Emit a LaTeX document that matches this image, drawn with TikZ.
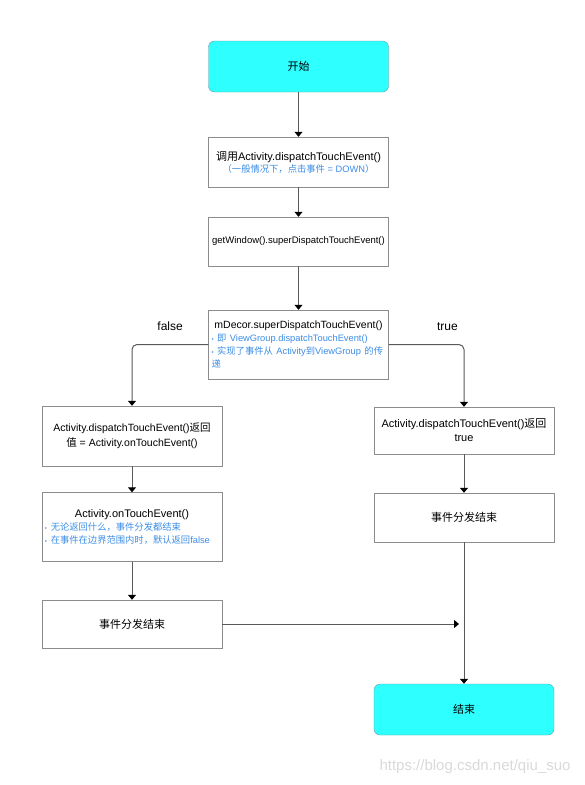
\documentclass[tikz,border=0pt]{standalone}
\usepackage{fontspec}
\setmainfont{Liberation Sans}
\newfontfamily\cjk{Noto Sans CJK SC}
\usetikzlibrary{arrows.meta,positioning}
\definecolor{startcyan}{HTML}{2EFFFF}
\definecolor{cyanline}{HTML}{6A9A9E}
\definecolor{noteblue}{HTML}{3C8DE6}
\newcommand\zh[1]{{\cjk #1}}
\newcommand\note[1]{{\fontsize{9.3}{13}\selectfont\color{noteblue}#1}}
\newcommand\dotmark{{\fontsize{6}{8}\selectfont\textbullet}}
\tikzstyle{every node}=[font=\fontsize{11}{14}\selectfont]
\tikzstyle{term}=[draw=cyanline,fill=startcyan,rounded corners=6pt,minimum width=180pt,minimum height=51pt]
\tikzstyle{proc}=[draw=black!45,fill=white,minimum width=180pt,align=center]
\tikzstyle{flow}=[draw=black!65,line width=1pt,-{Triangle[width=8pt,length=5pt,color=black]}]

\begin{document}
\begin{tikzpicture}[x=1pt,y=-1pt]
  \useasboundingbox (0,0) rectangle (585,785);
  % main column
  \node[term] (start) at (298.5,66.5) {\zh{开始}};
  \node[proc,minimum height=50pt] (call) at (298.5,162)
    {\zh{调用}Activity.dispatchTouchEvent()\\[-2pt] \note{\zh{（一般情况下，点击事件} = DOWN\zh{）}}};
  \node[proc,minimum height=49pt,font=\fontsize{9.5}{12}\selectfont] (win) at (298.5,241.5)
    {getWindow().superDispatchTouchEvent()};
  \node[proc,minimum height=69pt,text width=174pt,align=left,inner sep=2pt,font=\fontsize{10.5}{14}\selectfont] (decor) at (298.5,344.5)
    {\makebox[174pt]{mDecor.superDispatchTouchEvent()}\\[-1pt]
     \note{\dotmark\ \zh{即} ViewGroup.dispatchTouchEvent()}\\[-1pt]
     \note{\dotmark\ \zh{实现了事件从} Activity\zh{到}ViewGroup \zh{的传}}\\[-1pt]
     \note{\zh{递}}};
  % false branch
  \node[proc,minimum height=60pt,font=\fontsize{10.5}{15}\selectfont] (falseret) at (132,436)
    {Activity.dispatchTouchEvent()\zh{返回}\\ \zh{值} = Activity.onTouchEvent()};
  \node[proc,minimum height=69pt,text width=174pt,align=left,inner sep=2pt] (ontouch) at (132,527)
    {\makebox[174pt]{Activity.onTouchEvent()}\\[-1pt]
     \note{\dotmark\ \zh{无论返回什么，事件分发都结束}}\\[-1pt]
     \note{\dotmark\ \zh{在事件在边界范围内时，默认返回}false}};
  \node[proc,minimum height=48pt] (leftend) at (132,624) {\zh{事件分发结束}};
  % true branch
  \node[proc,minimum height=47pt] (trueret) at (464,430.5)
    {Activity.dispatchTouchEvent()\zh{返回}\\ true};
  \node[proc,minimum height=49pt] (rightend) at (464,517.5) {\zh{事件分发结束}};
  \node[term] (stop) at (464,709.5) {\zh{结束}};
  \coordinate (join) at (459,624);

  \path[flow] (start) -- (call);
  \path[flow] (call) -- (win);
  \path[flow] (win) -- (decor);
  \path[flow,rounded corners=5pt] (decor.west) -| node[pos=0.25,above=10pt,font=\fontsize{12}{14}\selectfont] (flab) {false} (falseret.north);
  \path[flow,rounded corners=5pt] (decor.east) -| node[pos=0.39,above=10pt,font=\fontsize{12}{14}\selectfont] (tlab) {true} (trueret.north);
  \path[flow] (falseret) -- (ontouch);
  \path[flow] (ontouch) -- (leftend);
  \path[flow] (trueret) -- (rightend);
  \path[flow] (rightend) -- (stop);
  \path[flow] (leftend) -- (join);

  \node[text=black!15,font=\fontsize{15}{17}\selectfont] (mark) at (475,767) {https://blog.csdn.net/qiu\_suo};
\end{tikzpicture}
\end{document}
